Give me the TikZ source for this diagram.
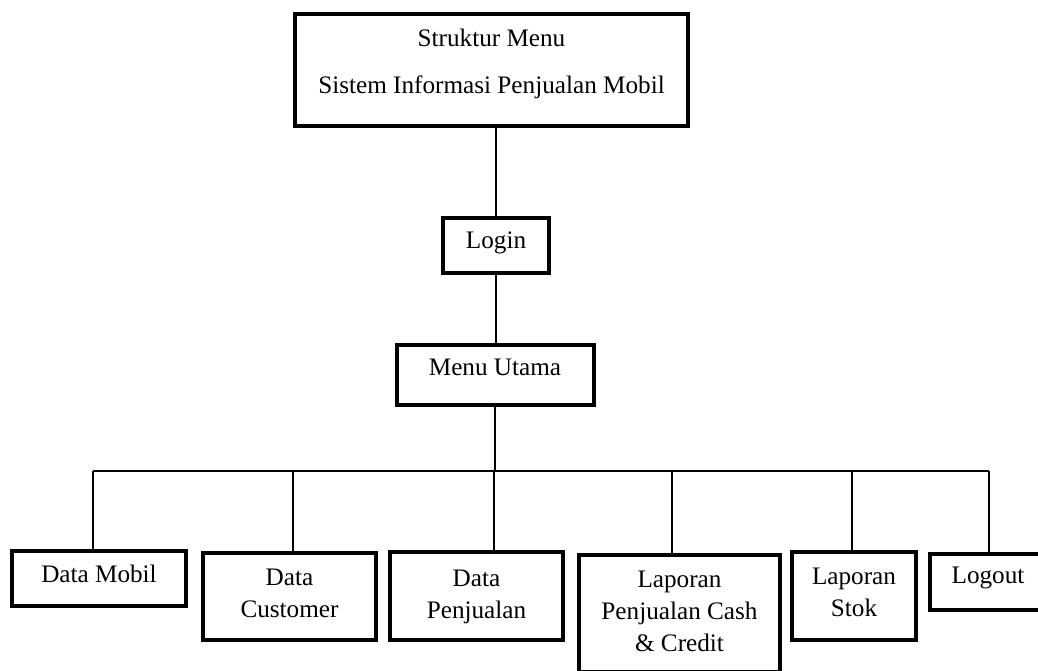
\documentclass[tikz,border=0pt]{standalone}
\usepackage{fontspec}
\setmainfont{Liberation Serif}
\usetikzlibrary{positioning}

\begin{document}
\begin{tikzpicture}[
    x=0.5pt, y=-0.5pt,
    node distance=7.5pt,
    block/.style={rectangle, draw, line width=2pt, inner sep=0pt},
    txt/.style={inner sep=0pt, align=center, font=\fontsize{12.6}{16}\selectfont},
    line/.style={draw, line width=1pt}
]
\clip (0,0) rectangle (1038,670);

% Header
\node[block, minimum width=196.5pt, minimum height=56pt] (judul) at (491.5,70) {};
\node[txt, font=\fontsize{12.6}{23.5}\selectfont, below=8.5pt of judul.north] {Struktur Menu\\Sistem Informasi Penjualan Mobil};

\node[block, minimum width=53pt, minimum height=27.5pt] (login) at (496,245.5) {};
\node[txt, below=7.5pt of login.north] {Login};

\node[block, minimum width=98.5pt, minimum height=30pt] (menu) at (495,375) {};
\node[txt, below=8pt of menu.north] {Menu Utama};

% Submenus
\node[block, minimum width=87pt, minimum height=27.5pt] (mobil) at (99,578.5) {};
\node[txt, below=8pt of mobil.north] {Data Mobil};

\node[block, minimum width=86.5pt, minimum height=43.5pt] (customer) at (289.5,596.5) {};
\node[txt, below=9pt of customer.north] {Data\\Customer};

\node[block, minimum width=86.5pt, minimum height=44pt] (penjualan) at (476.5,596) {};
\node[txt, below=10pt of penjualan.north] {Data\\Penjualan};

\node[block, minimum width=100.5pt, minimum height=58.5pt] (cash) at (679.5,613.5) {};
\node[txt, below=9pt of cash.north] {Laporan\\Penjualan Cash\\\& Credit};

\node[block, minimum width=62pt, minimum height=44pt] (stok) at (854,596) {};
\node[txt, below=9pt of stok.north] {Laporan\\Stok};

\node[block, minimum width=58pt, minimum height=28pt] (logout) at (988,582) {};
\node[txt, below=7.5pt of logout.north] {Logout};

% Connectors
\draw[line] (login.north |- judul.south) -- (login.north);
\draw[line] (login.south) -- (login.south |- menu.north);
\coordinate (bus) at (495,471);
\draw[line] (menu.south) -- (bus);
\foreach \b/\n in {93/mobil, 293/customer, 494/penjualan, 672/cash, 852/stok, 989/logout} {
    \coordinate (d\n) at (\b,471);
    \draw[line] (d\n) -- (d\n |- \n.north);
}
\draw[line] (dmobil) -- (dlogout);

\end{tikzpicture}
\end{document}
